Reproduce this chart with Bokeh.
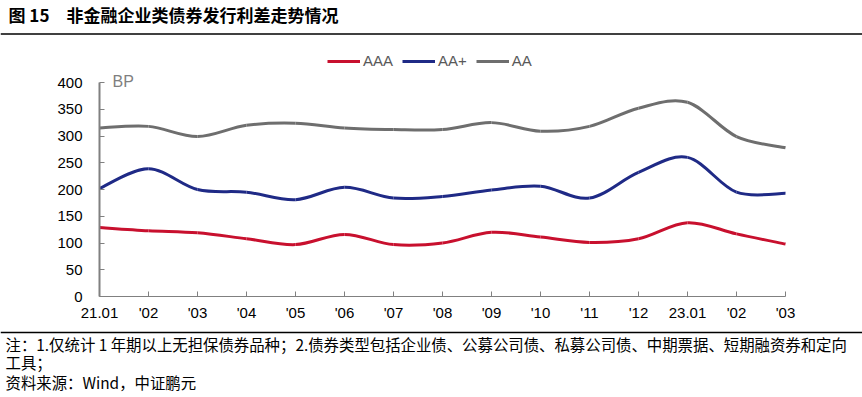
from bokeh.plotting import figure
from bokeh.models import (ColumnDataSource, Label, Legend, LegendItem, FixedTicker,
                          Range1d, Span)
from bokeh.embed import file_html
from bokeh.resources import INLINE

# ---------------- data ----------------
categories = ["21.01", "'02", "'03", "'04", "'05", "'06", "'07", "'08", "'09", "'10",
              "'11", "'12", "23.01", "'02", "'03"]
aaa = [129, 123, 119, 108, 97, 116, 97, 100, 120, 111, 101, 108, 138, 117, 98]
aa_plus = [202, 239, 200, 195, 181, 204, 184, 187, 199, 206, 184, 232, 260, 195, 193]
aa = [315, 318, 299, 320, 324, 315, 312, 312, 325, 309, 318, 352, 363, 299, 278]
y_ticks = [0, 50, 100, 150, 200, 250, 300, 350, 400]
y_max = 400
series_names = ["AAA", "AA+", "AA"]
series_colors = ["#C8102E", "#1F2A86", "#6E6E6E"]

title_num = "图 15"
title_text = "非金融企业类债券发行利差走势情况"
note1 = "注：1.仅统计 1 年期以上无担保债券品种；2.债券类型包括企业债、公募公司债、私募公司债、中期票据、短期融资券和定向"
note2 = "工具；"
note3 = "资料来源：Wind，中证鹏元"
unit_label = "BP"

W, H = 862, 397
CJK = "Noto Sans CJK SC"
LAT = "Liberation Sans"

# plot-area placement (pixels)
AX_X, AX_Y = 99, 296          # where the axes cross
PX_X = 686.0 / (len(categories) - 1)
PX_Y = 214.0 / y_max


def dx(px):
    return (px - AX_X) / PX_X


def dy(py):
    return (AX_Y - py) / PX_Y


p = figure(width=W, height=H, output_backend="svg", toolbar_location=None,
           x_range=Range1d(dx(0), dx(W)), y_range=Range1d(dy(H), dy(0)),
           min_border=0, min_border_left=0, min_border_right=0,
           min_border_top=0, min_border_bottom=0)
p.outline_line_color = None
p.grid.visible = False
p.background_fill_color = "white"
p.border_fill_color = "white"


def bezier_source(ys):
    n = len(ys)
    xs = list(range(n))
    d = dict(x0=[], y0=[], x1=[], y1=[], cx0=[], cy0=[], cx1=[], cy1=[])
    for i in range(n - 1):
        i0 = max(i - 1, 0)
        i3 = min(i + 2, n - 1)
        d["x0"].append(xs[i]); d["y0"].append(ys[i])
        d["x1"].append(xs[i + 1]); d["y1"].append(ys[i + 1])
        d["cx0"].append(xs[i] + (xs[i + 1] - xs[i0]) / 6)
        d["cy0"].append(ys[i] + (ys[i + 1] - ys[i0]) / 6)
        d["cx1"].append(xs[i + 1] - (xs[i3] - xs[i]) / 6)
        d["cy1"].append(ys[i + 1] - (ys[i3] - ys[i]) / 6)
    return ColumnDataSource(d)


items = []
for name, ys, col in zip(series_names, [aaa, aa_plus, aa], series_colors):
    r = p.bezier(x0="x0", y0="y0", x1="x1", y1="y1", cx0="cx0", cy0="cy0",
                 cx1="cx1", cy1="cy1", source=bezier_source(ys),
                 line_color=col, line_width=3)
    items.append(LegendItem(label=name, renderers=[r]))

legend = Legend(items=items, orientation="horizontal", location=(327, H - 61 - 8),
                glyph_width=33, glyph_height=16, label_standoff=3, spacing=9,
                label_height=16,
                label_text_font=LAT, label_text_font_size="15px",
                label_text_color="#595959", border_line_color=None,
                background_fill_alpha=0, padding=0, margin=0)
p.add_layout(legend, "center")

# axes, pinned to the data origin
p.xaxis.ticker = FixedTicker(ticks=list(range(len(categories))))
p.xaxis.major_label_overrides = {i: c for i, c in enumerate(categories)}
p.xaxis.bounds = (0, len(categories) - 1)
p.xaxis.fixed_location = 0
p.yaxis.ticker = FixedTicker(ticks=y_ticks)
p.yaxis.bounds = (0, y_max)
p.yaxis.fixed_location = 0
for ax in (p.xaxis[0], p.yaxis[0]):
    ax.axis_line_color = "#808080"
    ax.major_tick_line_color = "#808080"
    ax.major_tick_in = 5
    ax.major_tick_out = 0
    ax.minor_tick_line_color = None
    ax.major_label_text_font = LAT
    ax.major_label_text_font_size = "15px"
    ax.major_label_text_color = "#000000"
p.yaxis.axis_line_width = 2
p.xaxis.axis_line_width = 1
p.yaxis.major_label_standoff = 17
p.xaxis.major_label_standoff = 7

p.add_layout(Label(x=dx(112), y=dy(81), text=unit_label,
                   text_font=LAT, text_font_size="16px",
                   text_color="#7F7F7F", text_baseline="middle"))

# title
p.add_layout(Label(x=dx(8), y=dy(14), text=title_num, text_font=CJK, text_font_style="bold",
                   text_font_size="17px", text_color="#000000", text_baseline="middle"))
p.add_layout(Label(x=dx(66), y=dy(14), text=title_text, text_font=CJK, text_font_style="bold",
                   text_font_size="17px", text_color="#000000", text_baseline="middle"))
p.add_layout(Span(location=dy(33.5), dimension="width", line_color="#000000", line_width=1.5))

# notes
p.add_layout(Span(location=dy(332), dimension="width", line_color="#000000", line_width=1.5))
for t, yy in [(note1, 343), (note2, 361), (note3, 381)]:
    p.add_layout(Label(x=dx(5), y=dy(yy), text=t, text_font=CJK, text_font_size="15.4px",
                       text_color="#000000", text_baseline="middle"))

open("out.html", "w").write(file_html(p, INLINE))
